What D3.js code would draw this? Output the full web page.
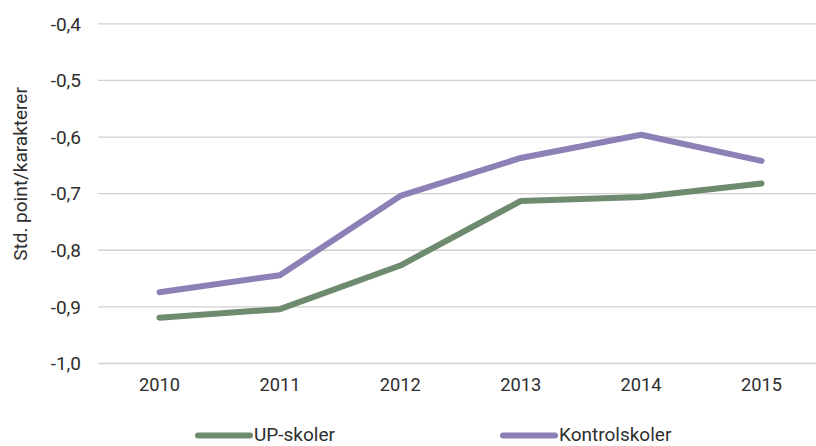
<!DOCTYPE html>
<html><head><meta charset="utf-8">
<script src="https://cdn.jsdelivr.net/npm/d3@7"></script>
<style>body{margin:0;background:#fff;} text{font-family:Roboto,"Noto Sans",sans-serif;fill:#2e2e2e;}</style>
</head><body>
<svg id="c" width="816" height="446"></svg>
<script>
const years = ["2010","2011","2012","2013","2014","2015"];
const upSkoler = [-0.919,-0.904,-0.827,-0.713,-0.706,-0.682];
const kontrolSkoler = [-0.874,-0.844,-0.704,-0.637,-0.596,-0.642];
const yTicks = [-1.0,-0.9,-0.8,-0.7,-0.6,-0.5,-0.4];
const seriesNames = ["UP-skoler","Kontrolskoler"];
const colors = ["#6f8b6f","#8c80b6"];

const svg = d3.select("#c");
const x = d3.scaleBand().domain(years).range([99.3,821.7]);
const y = d3.scaleLinear().domain([-1.0,-0.4]).range([363.5,23.8]);
const fmt = d => d3.format(".1f")(d).replace(".",",").replace("−","-");

svg.append("g").selectAll("line").data(yTicks).join("line")
  .attr("x1",98).attr("x2",821).attr("y1",d=>y(d)).attr("y2",d=>y(d))
  .attr("stroke","#d0d0d0").attr("stroke-width",1.3);

svg.append("g").selectAll("text").data(yTicks).join("text")
  .attr("x",81).attr("y",d=>y(d)).attr("dy","0.36em").attr("text-anchor","end")
  .attr("font-size",19).text(fmt);

svg.append("g").selectAll("text").data(years).join("text")
  .attr("x",d=>x(d)+x.bandwidth()/2).attr("y",391).attr("text-anchor","middle")
  .attr("font-size",19).attr("textLength",41).attr("lengthAdjust","spacingAndGlyphs").text(d=>d);

svg.append("text").attr("transform","translate(27,174) rotate(-90)")
  .attr("text-anchor","middle").attr("font-size",19).text("Std. point/karakterer");

const line = d3.line().x((d,i)=>x(years[i])+x.bandwidth()/2).y(d=>y(d));
[upSkoler,kontrolSkoler].forEach((s,i)=>{
  svg.append("path").attr("d",line(s)).attr("fill","none")
    .attr("stroke",colors[i]).attr("stroke-width",6)
    .attr("stroke-linecap","round").attr("stroke-linejoin","round");
});

const legX = [198,503];
seriesNames.forEach((n,i)=>{
  svg.append("line").attr("x1",legX[i]).attr("x2",legX[i]+52).attr("y1",435.5).attr("y2",435.5)
    .attr("stroke",colors[i]).attr("stroke-width",6).attr("stroke-linecap","round");
  svg.append("text").attr("x",legX[i]+56).attr("y",441).attr("font-size",19).text(n);
});
</script>
</body></html>
